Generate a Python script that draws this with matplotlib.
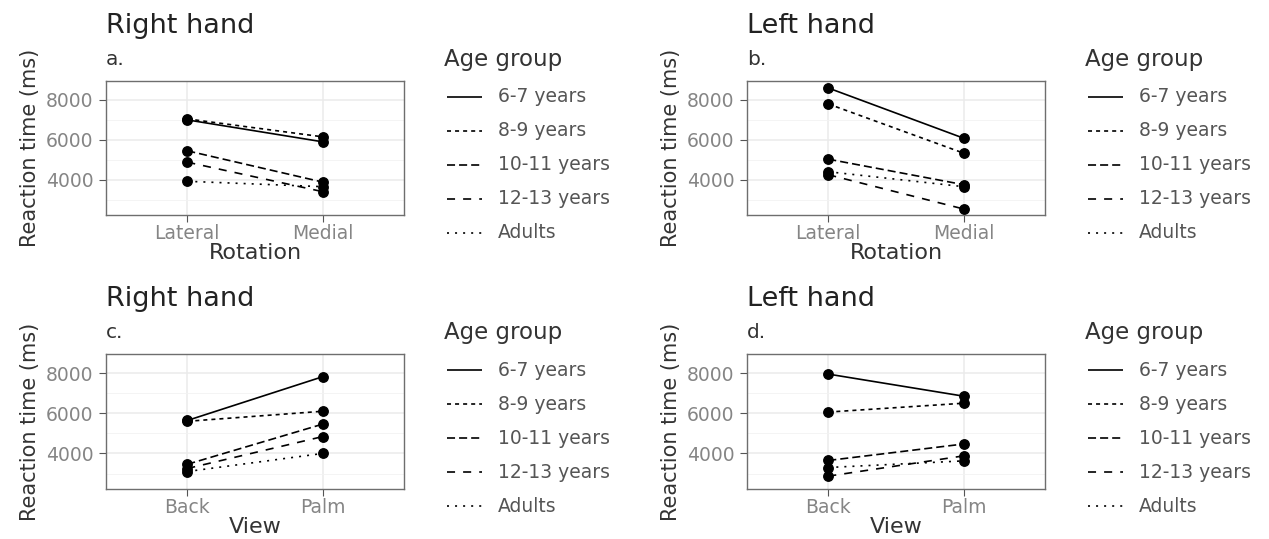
import matplotlib
matplotlib.use("Agg")
import matplotlib.pyplot as plt
from matplotlib.lines import Line2D
from matplotlib.ticker import FixedLocator

# Mean reaction times (ms) per age group
groups = ["6-7 years", "8-9 years", "10-11 years", "12-13 years", "Adults"]

rotation_levels = ["Lateral", "Medial"]
view_levels = ["Back", "Palm"]

right_lateral = [7000, 7050, 5450, 4880, 3920]
right_medial = [5900, 6150, 3880, 3400, 3650]

left_lateral = [8600, 7800, 5030, 4250, 4400]
left_medial = [6080, 5330, 3750, 2530, 3650]

right_back = [5640, 5600, 3460, 3250, 3100]
right_palm = [7820, 6100, 5460, 4840, 4000]

left_back = [7950, 6060, 3650, 2870, 3300]
left_palm = [6850, 6500, 4470, 3880, 3630]

y_ticks = [4000, 6000, 8000]
y_minor = [3000, 5000, 7000]
y_lim = (2230, 8950)

# ggplot-like linetypes: solid, "22", "42", "44", "13"  (unit ~1.45 pt)
u = 1.45
linestyles = [
    "-",
    (0, (2 * u, 2 * u)),
    (0, (4 * u, 2 * u)),
    (0, (4 * u, 4 * u)),
    (0, (1 * u, 3 * u)),
]

W, H = 1269, 539
plt.rcParams["lines.scale_dashes"] = False
plt.rcParams["font.family"] = "DejaVu Sans"

fig = plt.figure(figsize=(W / 100, H / 100), dpi=100)


def fx(px):
    return px / W


def fy(py):
    return 1 - py / H


def panel(box, xcats, first, second, title, tag, xlabel):
    x0, y0, x1, y1 = box
    ax = fig.add_axes([fx(x0), fy(y1), (x1 - x0) / W, (y1 - y0) / H])
    ax.set_facecolor("white")
    xs = [0, 1]
    for i, g in enumerate(groups):
        ax.plot(xs, [first[i], second[i]], color="black", lw=1.2,
                linestyle=linestyles[i], solid_capstyle="butt", zorder=3)
        ax.plot(xs, [first[i], second[i]], "o", color="black", ms=6.8,
                zorder=4)
    ax.set_xlim(-0.6, 1.6)
    ax.set_ylim(*y_lim)
    ax.set_xticks(xs)
    ax.set_xticklabels(xcats)
    ax.set_yticks(y_ticks)
    ax.yaxis.set_minor_locator(FixedLocator(y_minor))
    ax.grid(True, which="major", color="#ebebeb", lw=1.1, zorder=0)
    ax.grid(True, which="minor", axis="y", color="#f2f2f2", lw=0.6, zorder=0)
    ax.set_axisbelow(True)
    ax.tick_params(which="major", length=5, width=0.8, color="#555555",
                   labelcolor="#858585", labelsize=13.5)
    ax.tick_params(axis="y", pad=4)
    ax.tick_params(axis="x", pad=1.5)
    ax.tick_params(which="minor", length=0)
    for s in ax.spines.values():
        s.set_color("#6e6e6e")
        s.set_linewidth(1.0)
    ax.set_xlabel(xlabel, fontsize=16, color="#333333", labelpad=0)
    ax.set_ylabel("Reaction time (ms)", fontsize=15, color="#333333",
                  labelpad=4)

    fig.text(fx(x0), fy(y0 - 48), title, fontsize=19.5, color="#222222",
             va="baseline", ha="left")
    fig.text(fx(x0), fy(y0 - 16), tag, fontsize=14.5, color="#333333",
             va="baseline", ha="left")

    # legend drawn beside the panel
    lx = x1 + 40
    fig.text(fx(lx), fy(y0 - 21), "Age group", fontsize=16.5,
             color="#333333", va="center", ha="left")
    for i, g in enumerate(groups):
        yy = y0 + 16 + 34 * i
        fig.add_artist(Line2D([fx(lx + 3), fx(lx + 38)], [fy(yy), fy(yy)],
                              transform=fig.transFigure, color="black",
                              lw=1.2, linestyle=linestyles[i],
                              solid_capstyle="butt"))
        fig.text(fx(lx + 54), fy(yy), g, fontsize=13.5, color="#555555",
                 va="center", ha="left")
    return ax


panel((106, 81, 404, 215), rotation_levels, right_lateral, right_medial,
      "Right hand", "a.", "Rotation")
panel((747, 81, 1045, 215), rotation_levels, left_lateral, left_medial,
      "Left hand", "b.", "Rotation")
panel((106, 354, 404, 489), view_levels, right_back, right_palm,
      "Right hand", "c.", "View")
panel((747, 354, 1045, 489), view_levels, left_back, left_palm,
      "Left hand", "d.", "View")

fig.savefig("out.png", dpi=100, facecolor="white")
